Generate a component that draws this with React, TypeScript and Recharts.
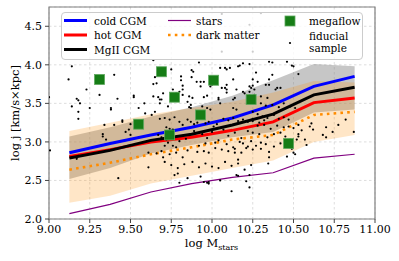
import React from 'react';
import {
  ComposedChart,
  Line,
  Area,
  Scatter,
  XAxis,
  YAxis,
  CartesianGrid,
  ReferenceArea,
  Legend,
  Label,
} from 'recharts';

// ---- data ----
const massBins = [9.125, 9.375, 9.625, 9.875, 10.125, 10.375, 10.625, 10.875];
const coldCGM = [2.86, 2.98, 3.09, 3.19, 3.31, 3.48, 3.72, 3.85];
const hotCGM = [2.81, 2.9, 3.0, 3.06, 3.15, 3.26, 3.51, 3.57];
const mgiiCGM = [2.79, 2.89, 3.02, 3.1, 3.22, 3.36, 3.61, 3.71];
const starsJ = [2.07, 2.19, 2.35, 2.46, 2.54, 2.6, 2.79, 2.84];
const darkMatter = [2.64, 2.73, 2.84, 2.93, 3.03, 3.09, 3.35, 3.39];
const dmLow = [2.21, 2.3, 2.46, 2.56, 2.66, 2.76, 3.0, 3.09];
const dmHigh = [3.14, 3.25, 3.36, 3.44, 3.52, 3.64, 3.79, 3.77];
const mgLow = [2.52, 2.66, 2.85, 2.96, 3.06, 3.13, 3.38, 3.42];
const mgHigh = [3.07, 3.19, 3.33, 3.45, 3.6, 3.8, 4.01, 3.98];

const megaflow: [number, number][] = [
  [9.31, 3.81], [9.55, 3.23], [9.69, 3.91], [9.74, 3.09], [9.77, 3.58],
  [9.93, 3.35], [10.01, 3.8], [10.24, 3.55], [10.47, 2.98],
];

const fiducialSample: [number, number][] = [
  [9.0, 3.58], [9.006, 2.89], [9.12, 3.81], [9.14, 3.98], [9.14, 3.46], [9.17, 3.56], [9.18, 3.54],
  [9.19, 3.5], [9.18, 3.39], [9.18, 3.3], [9.17, 2.78], [9.18, 2.82], [9.23, 3.68], [9.25, 3.44],
  [9.31, 3.61], [9.33, 3.1], [9.34, 3.22], [9.35, 3.03], [9.38, 3.44], [9.38, 3.42], [9.4, 3.87],
  [9.4, 3.22], [9.42, 3.56], [9.425, 2.53], [9.45, 3.28], [9.45, 3.26], [9.47, 3.13], [9.49, 3.16],
  [9.5, 3.23], [9.5, 3.09], [9.33, 3.07], [9.52, 3.58], [9.52, 3.6], [9.55, 3.44], [9.585, 3.5],
  [9.59, 3.37], [9.61, 2.86], [9.61, 2.67], [9.63, 3.35], [9.64, 3.75], [9.64, 4.06], [9.64, 3.59],
  [9.65, 3.84], [9.66, 3.76], [9.65, 3.39], [9.66, 2.85], [9.68, 3.55], [9.68, 3.5], [9.7, 2.8],
  [9.7, 3.63], [9.67, 3.58], [9.69, 3.55], [9.73, 3.46], [9.75, 3.94], [9.76, 3.68], [9.78, 3.63],
  [9.81, 3.85], [9.81, 3.8], [9.82, 3.73], [9.82, 3.68], [9.8, 3.65], [9.82, 3.61], [9.86, 3.59],
  [9.88, 3.57], [9.87, 3.48], [9.87, 3.44], [9.875, 3.93], [9.885, 3.91], [9.875, 3.84], [9.85, 3.52],
  [9.86, 3.45], [9.906, 3.78], [9.92, 4.03], [9.93, 3.78], [9.93, 3.72], [9.94, 3.46], [9.95, 3.58],
  [9.95, 3.78], [9.97, 3.6], [9.97, 3.44], [9.99, 3.42], [9.99, 3.72], [10.0, 3.74], [10.04, 3.55],
  [10.05, 3.96], [10.08, 3.96], [10.04, 3.57], [10.05, 3.5], [10.06, 3.7], [10.08, 3.7], [10.09, 3.74],
  [10.09, 3.68], [10.09, 3.64], [10.09, 3.94], [10.11, 3.96], [10.13, 3.81], [10.13, 3.55], [10.14, 3.57],
  [10.15, 3.68], [10.16, 3.98], [10.17, 3.99], [10.19, 4.02], [10.19, 3.65], [10.2, 3.63], [10.23, 3.65],
  [10.23, 4.01], [10.23, 3.72], [10.25, 3.81], [10.25, 3.73], [10.23, 3.6], [10.13, 3.44], [10.15, 3.42],
  [10.27, 3.9], [10.28, 3.78], [10.33, 3.74], [10.35, 3.81], [10.35, 3.74], [10.35, 4.04], [10.37, 4.03],
  [10.37, 3.87], [10.39, 3.68], [10.42, 3.7], [10.4, 3.7], [10.46, 4.04], [10.49, 3.99], [10.5, 3.98],
  [10.53, 3.88], [10.24, 3.7], [10.26, 3.68], [10.26, 3.61], [10.3, 3.59], [10.34, 3.57],
  [10.3, 4.67], [10.25, 4.17], [10.06, 4.17], [10.23, 4.52], [10.06, 4.66],
  [9.68, 3.3], [9.71, 3.31], [9.74, 3.29], [9.77, 3.32], [9.8, 3.26], [9.82, 3.22], [9.72, 3.19],
  [9.74, 3.17], [9.76, 3.16], [9.67, 3.09], [9.69, 3.06], [9.72, 3.03], [9.85, 3.29], [9.87, 3.26],
  [9.89, 3.23], [9.91, 3.25], [9.96, 3.24], [9.98, 3.26], [10.01, 3.2], [10.03, 3.23], [10.07, 3.3],
  [10.1, 3.28], [10.13, 3.31], [10.16, 3.27], [10.19, 3.29], [10.22, 3.26], [10.25, 3.3],
  [10.26, 3.52], [10.3, 3.5], [10.33, 3.47], [10.37, 3.48], [10.41, 3.45], [10.44, 3.5], [10.48, 3.46],
  [10.51, 3.44], [10.25, 3.39], [10.28, 3.36], [10.31, 3.33], [10.34, 3.31], [10.38, 3.35], [10.41, 3.3],
  [10.44, 3.32], [10.47, 3.29], [10.25, 3.27], [10.29, 3.25], [10.32, 3.28], [10.28, 3.21], [10.32, 3.22],
  [10.36, 3.17], [10.4, 3.21], [10.44, 3.19], [10.47, 3.2], [10.5, 3.18], [10.53, 3.22], [10.25, 3.12],
  [10.29, 3.1], [10.34, 3.06], [10.38, 3.1], [10.42, 3.12], [10.45, 3.07], [10.53, 3.1], [10.55, 3.15],
  [10.3, 2.99], [10.33, 2.97], [10.38, 2.94], [10.42, 2.98], [10.52, 3.03], [10.48, 2.93], [10.49, 2.91],
  [10.27, 2.95], [10.3, 2.91], [10.35, 2.87], [10.5, 2.86], [10.51, 2.84],
  [10.775, 3.22], [10.82, 3.29], [10.87, 3.13], [10.61, 3.24], [10.6, 3.2], [10.62, 3.16], [10.7, 3.19],
  [10.74, 3.13], [10.68, 3.09], [10.7, 3.06], [10.57, 3.03], [10.58, 2.96], [10.53, 3.07], [10.48, 3.03],
  [10.46, 2.81], [10.345, 2.72], [10.35, 2.8], [10.23, 2.41], [10.12, 2.36], [9.95, 2.48], [9.98, 2.48],
  [10.16, 2.77], [10.13, 2.93], [10.14, 2.86], [10.19, 2.98], [10.22, 2.94], [10.25, 2.9], [10.16, 2.56],
  [10.23, 2.57], [9.97, 2.47],
  [9.69, 2.88], [9.74, 2.84], [9.78, 2.86], [9.82, 2.8], [9.85, 2.89], [9.91, 2.87], [9.95, 2.88],
  [9.98, 2.86], [10.02, 2.92], [10.06, 2.9], [10.1, 2.88], [10.14, 2.91], [10.18, 2.86], [10.21, 2.92],
  [9.71, 2.74], [9.75, 2.7], [9.79, 2.66], [9.83, 2.71], [9.88, 2.74], [9.92, 2.67], [9.96, 2.72],
  [10.0, 2.68], [10.04, 2.66], [10.08, 2.74], [10.12, 2.69], [10.16, 2.72], [10.2, 2.64], [10.24, 2.7],
  [9.77, 2.57], [9.85, 2.53], [9.93, 2.55], [10.05, 2.5], [10.15, 2.57], [10.21, 2.49], [9.79, 2.59],
  [9.8, 2.47], [9.98, 2.46],
  [9.94, 3.1], [9.97, 3.05], [10.0, 3.13], [10.04, 3.02], [10.07, 3.16], [10.1, 3.08], [10.14, 3.12],
  [10.18, 3.05], [10.22, 3.14], [9.96, 2.98], [10.02, 2.99], [10.09, 2.97], [10.17, 3.0], [10.24, 3.01],
  [9.89, 3.14], [9.84, 3.04], [9.8, 3.01], [9.76, 2.95], [9.92, 2.95], [9.71, 2.95], [9.73, 2.99],
  [9.78, 2.93],
];

const xTicks = [9.0, 9.25, 9.5, 9.75, 10.0, 10.25, 10.5, 10.75, 11.0];
const yTicks = [2.0, 2.5, 3.0, 3.5, 4.0, 4.5];

// tables built from the arrays
const binRows = massBins.map((m, i) => ({
  m,
  cold: coldCGM[i],
  hot: hotCGM[i],
  mg: mgiiCGM[i],
  stars: starsJ[i],
  dm: darkMatter[i],
  dmBand: [dmLow[i], dmHigh[i]],
  mgBand: [mgLow[i], mgHigh[i]],
}));
const fiducialRows = fiducialSample.map(([m, j]) => ({ m, j }));
const megaflowRows = megaflow.map(([m, j]) => ({ m, j }));

const FONT = "'DejaVu Serif', serif";

const SmallDot = (p: any) => <circle cx={p.cx} cy={p.cy} r={1.1} fill="#000" />;
const GreenSquare = (p: any) => (
  <rect x={p.cx - 5} y={p.cy - 5} width={10} height={10} fill="#167d16" stroke="#5fa85f" strokeWidth={0.8} />
);

const XLabelContent = () => (
  <text x={211.5} y={247} textAnchor="middle" fontFamily={FONT} fontSize={11.5} fill="#000">
    <tspan>log M</tspan>
    <tspan fontSize={8} dy={2.5}>stars</tspan>
  </text>
);

const YLabelContent = () => (
  <text
    x={15}
    y={113}
    transform="rotate(-90 15 113)"
    textAnchor="middle"
    dominantBaseline="central"
    fontFamily={FONT}
    fontSize={11.5}
    fill="#000"
  >
    log j [km/s×kpc]
  </text>
);

const LegendBox = () => {
  const txt = { fontFamily: FONT, fontSize: 10.5, fill: '#000' } as const;
  const r1 = 8.5, r2 = 23, r3 = 37.5;
  return (
    <div
      style={{
        width: 302,
        height: 48,
        boxSizing: 'border-box',
        border: '1px solid #cccccc',
        borderRadius: 4,
        background: 'rgba(255,255,255,0.8)',
        position: 'relative',
      }}
    >
      <svg width={302} height={48} style={{ position: 'absolute', left: -1, top: -1, overflow: 'visible' }}>
        <line x1={3} x2={26} y1={r1} y2={r1} stroke="#0000ff" strokeWidth={3} />
        <text x={33} y={r1} dominantBaseline="central" {...txt}>cold CGM</text>
        <line x1={3} x2={26} y1={r2} y2={r2} stroke="#ff0000" strokeWidth={3} />
        <text x={33} y={r2} dominantBaseline="central" {...txt}>hot CGM</text>
        <line x1={3} x2={26} y1={r3} y2={r3} stroke="#000" strokeWidth={3} />
        <text x={33} y={r3} dominantBaseline="central" {...txt}>MgII CGM</text>

        <line x1={107} x2={130} y1={r1} y2={r1} stroke="#800080" strokeWidth={1.2} />
        <text x={135} y={r1} dominantBaseline="central" {...txt}>stars</text>
        <line x1={107} x2={130} y1={r2} y2={r2} stroke="#ff8c00" strokeWidth={2.6} strokeDasharray="2.6 4.2" />
        <text x={135} y={r2} dominantBaseline="central" {...txt}>dark matter</text>

        <rect x={224} y={r1 - 4.5} width={10} height={10} fill="#167d16" stroke="#5fa85f" strokeWidth={0.8} />
        <text x={248} y={r1} dominantBaseline="central" {...txt}>megaflow</text>
        <circle cx={229} cy={31} r={1.1} fill="#000" />
        <text x={248} y={23.5} dominantBaseline="central" {...txt}>fiducial</text>
        <text x={248} y={35.5} dominantBaseline="central" {...txt}>sample</text>
      </svg>
    </div>
  );
};

export default function App() {
  return (
    <div style={{ position: 'absolute', left: 0, top: 0 }}>
      <ComposedChart
        width={399}
        height={261}
        data={binRows}
        margin={{ top: 7, right: 24, bottom: 0, left: 0 }}
        style={{ fontFamily: FONT }}
      >
        <CartesianGrid stroke="#d6d6d6" strokeDasharray="2.5 2.5" strokeWidth={0.8} />
        <XAxis
          type="number"
          dataKey="m"
          domain={[9, 11]}
          ticks={xTicks}
          allowDataOverflow
          interval={0}
          height={42}
          axisLine={false}
          tickSize={4}
          tickMargin={2}
          tickLine={{ stroke: '#444' }}
          tick={{ fontSize: 11, fill: '#000', fontFamily: FONT }}
          tickFormatter={(v: number) => v.toFixed(2)}
          label={<Label content={XLabelContent} />}
        />
        <YAxis
          type="number"
          domain={[2, 4.75]}
          ticks={yTicks}
          allowDataOverflow
          interval={0}
          width={49}
          axisLine={false}
          tickSize={4}
          tickMargin={3}
          tickLine={{ stroke: '#444' }}
          tick={{ fontSize: 11, fill: '#000', fontFamily: FONT }}
          tickFormatter={(v: number) => v.toFixed(1)}
          label={<Label content={YLabelContent} />}
        />
        <Area
          type="linear"
          dataKey="mgBand"
          stroke="none"
          fill="#808080"
          fillOpacity={0.45}
          isAnimationActive={false}
          activeDot={false}
        />
        <Area
          type="linear"
          dataKey="dmBand"
          stroke="none"
          fill="#ff8c00"
          fillOpacity={0.22}
          isAnimationActive={false}
          activeDot={false}
        />
        <Scatter data={fiducialRows} dataKey="j" shape={SmallDot} isAnimationActive={false} />
        <Scatter data={megaflowRows} dataKey="j" shape={GreenSquare} isAnimationActive={false} />
        <Line type="linear" dataKey="stars" stroke="#800080" strokeWidth={1.2} dot={false} activeDot={false} isAnimationActive={false} />
        <Line
          type="linear"
          dataKey="dm"
          stroke="#ff8c00"
          strokeWidth={2.6}
          strokeDasharray="2.6 4.2"
          dot={false}
          activeDot={false}
          isAnimationActive={false}
        />
        <Line type="linear" dataKey="hot" stroke="#ff0000" strokeWidth={3} dot={false} activeDot={false} isAnimationActive={false} />
        <Line type="linear" dataKey="mg" stroke="#000000" strokeWidth={3} dot={false} activeDot={false} isAnimationActive={false} />
        <Line type="linear" dataKey="cold" stroke="#0000ff" strokeWidth={3} dot={false} activeDot={false} isAnimationActive={false} />
        <ReferenceArea x1={9} x2={11} y1={2} y2={4.75} fill="none" stroke="#808080" strokeWidth={1.2} ifOverflow="visible" />
        <Legend
          layout="horizontal"
          verticalAlign="middle"
          align="center"
          content={() => <LegendBox />}
          wrapperStyle={{ position: 'absolute', left: 61, top: 12, width: 302, height: 48 }}
        />
      </ComposedChart>
    </div>
  );
}
